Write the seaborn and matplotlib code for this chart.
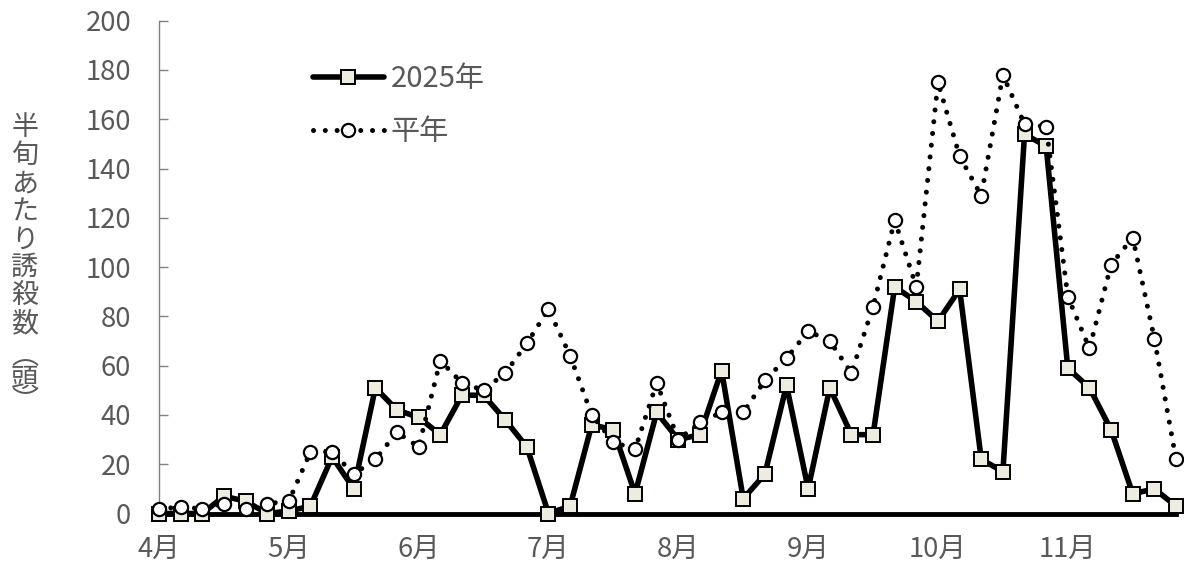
import matplotlib
matplotlib.use("Agg")
import matplotlib.pyplot as plt
import numpy as np
import pandas as pd
import seaborn as sns

# Half-month (5-day period) trap counts, April through November (6 periods per month)
periods = list(range(48))
month_labels = ["4月", "5月", "6月", "7月", "8月", "9月", "10月", "11月"]
count_2025 = [0, 0, 0, 7, 5, 0,
              1, 3, 23, 10, 51, 42,
              39, 32, 48, 48, 38, 27,
              0, 3, 36, 34, 8, 41,
              30, 32, 58, 6, 16, 52,
              10, 51, 32, 32, 92, 86,
              78, 91, 22, 17, 154, 149,
              59, 51, 34, 8, 10, 3]
count_normal = [2, 2.5, 2, 4, 2, 4,
                5, 25, 25, 16, 22, 33,
                27, 62, 53, 50, 57, 69,
                83, 64, 40, 29, 26, 53,
                30, 37, 41, 41, 54, 63,
                74, 70, 57, 84, 119, 92,
                175, 145, 129, 178, 158, 157,
                88, 67, 101, 112, 71, 22]
series_names = ["2025年", "平年"]
y_label_main = "半旬あたり誘殺数"
y_label_unit = "︵頭︶"

df_2025 = pd.DataFrame({"period": periods, "count": count_2025})
df_normal = pd.DataFrame({"period": periods, "count": count_normal})

sns.set_style("white")
plt.rcParams["font.family"] = ["Noto Sans CJK JP", "DejaVu Sans"]

grey = "#595959"
W, H = 1184, 572
fig = plt.figure(figsize=(W / 100, H / 100), dpi=100)
ax = fig.add_axes([159 / W, 1 - 513.5 / H, (1176 - 159) / W, (513.5 - 20.7) / H])

sns.lineplot(data=df_2025, x="period", y="count", ax=ax, color="black",
             linewidth=4, marker="s", markersize=9.5,
             markerfacecolor="#EEECE1", markeredgecolor="black",
             markeredgewidth=1.4, label=series_names[0], zorder=3,
             clip_on=False)
sns.lineplot(data=df_normal, x="period", y="count", ax=ax, color="black",
             linewidth=3.6, linestyle=(0, (0.01, 2.35)), dash_capstyle="round",
             marker="o", markersize=9.5, markerfacecolor="white",
             markeredgecolor="black", markeredgewidth=1.6,
             label=series_names[1], zorder=4, clip_on=False)

ax.set_xlim(0, 47)
ax.set_ylim(0, 200)
ax.set_xticks(range(0, 48, 6))
ax.set_xticklabels(month_labels)
ax.set_yticks(range(0, 201, 20))
ax.set_xlabel("")
ax.set_ylabel("")

ax.tick_params(axis="x", length=0, pad=16, labelsize=19.8, labelcolor=grey)
ax.tick_params(axis="y", direction="in", length=6.5, width=1, color="#808080",
               pad=20, labelsize=19.8, labelcolor=grey, left=True)

for side in ("top", "right"):
    ax.spines[side].set_visible(False)
ax.spines["left"].set_color("#808080")
ax.spines["left"].set_linewidth(1)
ax.spines["bottom"].set_color("black")
ax.spines["bottom"].set_linewidth(3.5)
ax.spines["bottom"].set_zorder(2.5)

# vertical (tategaki) axis title: one glyph per row, the unit in tighter rows
x_title = 25 / W
fig.text(x_title, 1 - 114 / H, "\n".join(y_label_main), ha="center", va="top",
         fontsize=19.5, color=grey, linespacing=1.05)
fig.text(x_title, 1 - 343 / H, "\n".join(y_label_unit), ha="center", va="top",
         fontsize=19.5, color=grey, linespacing=0.82)

leg = ax.legend(loc="upper left", bbox_to_anchor=(0.151, 0.912),
                frameon=False, fontsize=21, handlelength=2.45,
                handletextpad=0.22, labelspacing=0.8, borderpad=0,
                borderaxespad=0)
for t in leg.get_texts():
    t.set_color(grey)

fig.savefig("out.png", dpi=100)
